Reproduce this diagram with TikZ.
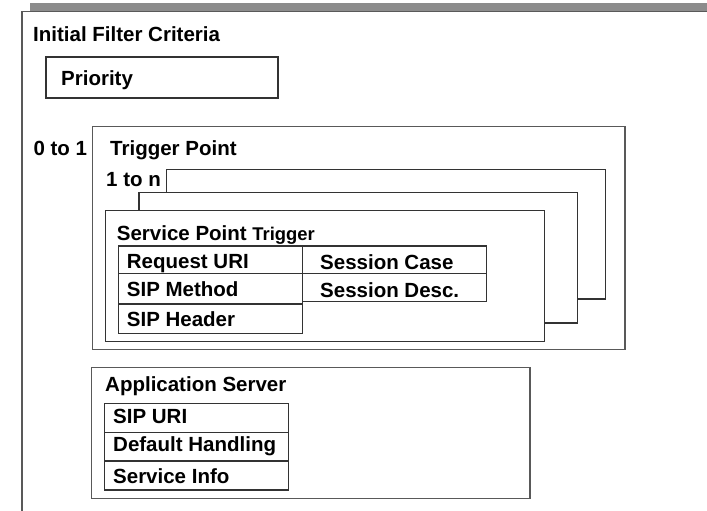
\documentclass[tikz,border=0pt]{standalone}
\usepackage{fontspec}
\setmainfont{Liberation Sans}
\begin{document}
\begin{tikzpicture}[x=1pt,y=-1pt,
  lbl/.style={anchor=base west,inner sep=0pt,font=\bfseries\fontsize{20.5}{24}\selectfont},
  box/.style={draw=black!80,line width=1.2pt,fill=white,anchor=north west,inner sep=0pt,outer sep=0pt},
  frame/.style={draw=black!65,line width=1.3pt,fill=white,anchor=north west,inner sep=0pt,outer sep=0pt}]
\useasboundingbox (0,0) rectangle (707,511);
% top bar and outer frame
\fill[black!45] (30,3) rectangle (707,10.7);
\coordinate (olb) at (22,511);
\coordinate (otl) at (22,11.5);
\coordinate (otr) at (707,11.5);
\draw[black!65,line width=1.3pt] (olb) -- (otl) -- (otr);
\node[lbl] (ifc) at (33,41.7) {Initial Filter Criteria};
% priority
\node[box,minimum width=232pt,minimum height=41pt] (prio) at (46,57) {};
\node[lbl] (priot) at (61,85) {Priority};
% trigger point
\node[lbl] (zto) at (33.3,155.7) {0 to 1};
\node[frame,minimum width=532.5pt,minimum height=222.6pt] (tp) at (92.5,126.7) {};
\node[lbl] (tpt) at (110,155.7) {Trigger Point};
\node[lbl] (oton) at (106,186.7) {1 to n};
\node[box,minimum width=439pt,minimum height=129.7pt] (bk1) at (166.7,169.3) {};
\node[box,minimum width=438.7pt,minimum height=130.7pt] (bk2) at (139,192.3) {};
\node[box,minimum width=439pt,minimum height=131pt] (spt) at (105.7,210.7) {};
\node[lbl] (sptt) at (116.7,240) {Service Point {\fontsize{18.4}{22}\selectfont Trigger}};
\node[box,minimum width=184pt,minimum height=27.3pt] (ruri) at (118.7,246) {};
\node[box,minimum width=184pt,minimum height=30.7pt] (sipm) at (118.7,273.3) {};
\node[box,minimum width=184pt,minimum height=29.3pt] (siph) at (118.7,304) {};
\node[box,minimum width=184pt,minimum height=27.3pt] (sesc) at (302.7,246) {};
\node[box,minimum width=184pt,minimum height=28.4pt] (sesd) at (302.7,273.3) {};
\node[lbl] at (126.7,268.7) {Request URI};
\node[lbl] at (126.7,296.7) {SIP Method};
\node[lbl] at (126.7,326.7) {SIP Header};
\node[lbl] at (320,269) {Session Case};
\node[lbl] at (320,297) {Session Desc.};
% application server
\node[frame,minimum width=438.3pt,minimum height=131pt] (as) at (91.7,367.3) {};
\node[lbl] (ast) at (105,391.7) {Application Server};
\node[box,minimum width=184pt,minimum height=29pt] (suri) at (104.3,403.3) {};
\node[box,minimum width=184pt,minimum height=28.7pt] (dh) at (104.3,432.3) {};
\node[box,minimum width=184pt,minimum height=29pt] (si) at (104.3,461) {};
\node[lbl] at (113,423) {SIP URI};
\node[lbl] at (113,451.7) {Default Handling};
\node[lbl] at (113,483) {Service Info};
\end{tikzpicture}
\end{document}
